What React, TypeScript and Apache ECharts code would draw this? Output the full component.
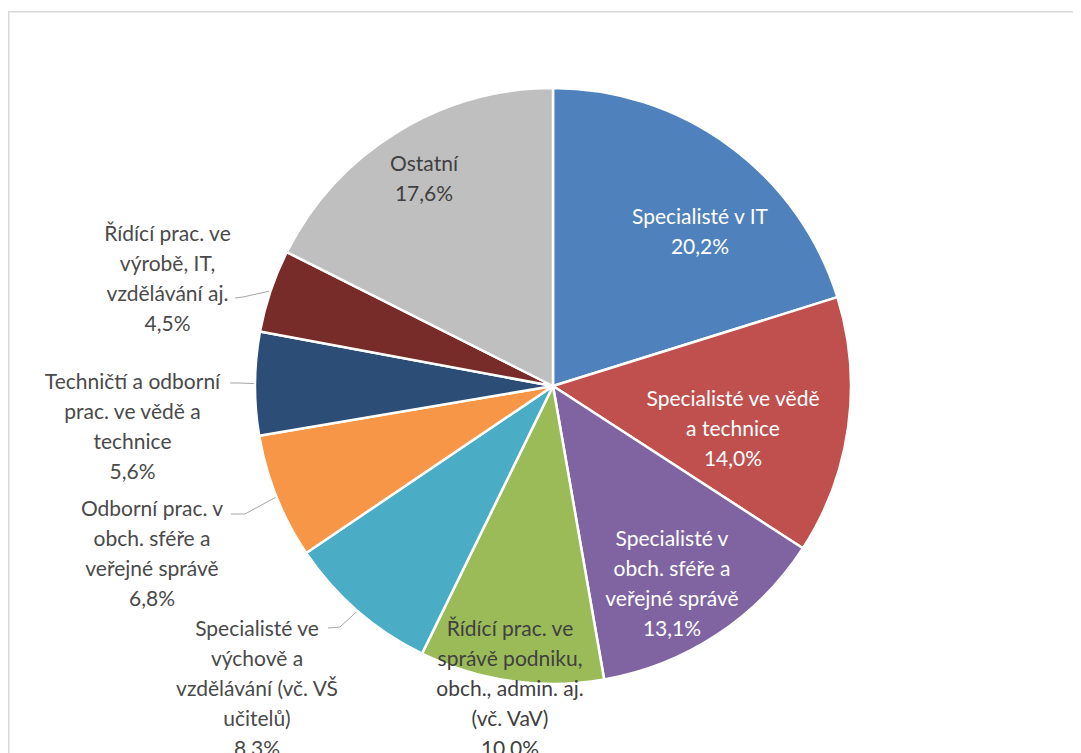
import React, { useEffect, useRef } from "react";
import * as echarts from "echarts";

const categories = [
  "Specialisté v IT",
  "Specialisté ve vědě a technice",
  "Specialisté v obch. sféře a veřejné správě",
  "Řídící prac. ve správě podniku, obch., admin. aj. (vč. VaV)",
  "Specialisté ve výchově a vzdělávání (vč. VŠ učitelů)",
  "Odborní prac. v obch. sféře a veřejné správě",
  "Techničtí a odborní prac. ve vědě a technice",
  "Řídící prac. ve výrobě, IT, vzdělávání aj.",
  "Ostatní",
];

const labelTexts = [
  "Specialisté v IT",
  "Specialisté ve vědě\na technice",
  "Specialisté v\nobch. sféře a\nveřejné správě",
  "Řídící prac. ve\nsprávě podniku,\nobch., admin. aj.\n(vč. VaV)",
  "Specialisté ve\nvýchově a\nvzdělávání (vč. VŠ\nučitelů)",
  "Odborní prac. v\nobch. sféře a\nveřejné správě",
  "Techničtí a odborní\nprac. ve vědě a\ntechnice",
  "Řídící prac. ve\nvýrobě, IT,\nvzdělávání aj.",
  "Ostatní",
];

const values = [20.2, 14.0, 13.1, 10.0, 8.3, 6.8, 5.6, 4.5, 17.6];

const colors = [
  "#4F81BD",
  "#C0504D",
  "#8064A2",
  "#9BBB59",
  "#4BACC6",
  "#F79646",
  "#2C4D75",
  "#772C2A",
  "#BFBFBF",
];

const insideLabel = [true, true, true, true, false, false, false, false, true];
const textColors = ["#ffffff", "#ffffff", "#ffffff", "#404040", "#4a4a4a", "#4a4a4a", "#4a4a4a", "#4a4a4a", "#404040"];

// label placement (chart pixel coords): centre x, block top, optional leader-line tail
const CX = 545;
const CY = 378;
const R = 298;
const LABEL_POS: { x: number; top: number; line?: number[][] }[] = [
  { x: 692, top: 192 },
  { x: 725, top: 374 },
  { x: 664, top: 514 },
  { x: 502, top: 604 },
  { x: 249, top: 604, line: [[332, 619], [320, 620]] },
  { x: 144, top: 484, line: [[237, 506], [223, 506]] },
  { x: 124.5, top: 357, line: [[232, 375], [222, 375]] },
  { x: 159.5, top: 209, line: [[235, 289], [227, 290]] },
  { x: 416, top: 139 },
];

function edgePoint(idx: number): number[] {
  const total = values.reduce((a, b) => a + b, 0);
  let cum = 0;
  for (let i = 0; i < idx; i++) cum += values[i];
  const theta = (2 * Math.PI * (cum + values[idx] / 2)) / total;
  return [CX + R * Math.sin(theta), CY - R * Math.cos(theta)];
}

export default function App() {
  const ref = useRef<HTMLDivElement>(null);

  useEffect(() => {
    document.documentElement.style.overflow = "hidden";
    if (!ref.current) return;
    const chart = echarts.init(ref.current, undefined, { renderer: "svg" });

    const data = categories.map((name, i) => ({
      name,
      value: values[i],
      itemStyle: { color: colors[i] },
      label: {
        show: true,
        position: insideLabel[i] ? "inside" : "outside",
        color: textColors[i],
      },
      labelLine: {
        show: !insideLabel[i],
        lineStyle: { color: "#a6a6a6", width: 1 },
      },
    }));

    chart.setOption({
      animation: false,
      graphic: [
        {
          type: "rect",
          shape: { x: 0.75, y: 3.75, width: 1200, height: 1000 },
          style: { fill: "none", stroke: "#d9d9d9", lineWidth: 1.5 },
          silent: true,
        },
      ],
      series: [
        {
          type: "pie",
          center: [CX, CY],
          radius: [0, R],
          startAngle: 90,
          clockwise: true,
          avoidLabelOverlap: false,
          minShowLabelAngle: 0,
          silent: true,
          itemStyle: { borderColor: "#ffffff", borderWidth: 2.5 },
          label: {
            fontFamily: "Lato, 'Noto Sans', sans-serif",
            fontSize: 21,
            lineHeight: 30,
            align: "center",
            formatter: (p: any) =>
              labelTexts[p.dataIndex] + "\n" + values[p.dataIndex].toFixed(1).replace(".", ",") + "%",
          },
          labelLine: { show: true, length: 10, length2: 10, smooth: false },
          labelLayout: (params: any) => {
            const p = LABEL_POS[params.dataIndex];
            const res: any = { x: p.x, y: p.top, align: "center", verticalAlign: "top" };
            if (p.line) {
              res.labelLinePoints = [edgePoint(params.dataIndex), p.line[0], p.line[1]];
            }
            return res;
          },
          emphasis: { disabled: true },
          data,
        },
      ],
    });

    return () => chart.dispose();
  }, []);

  return <div ref={ref} style={{ width: 1065, height: 745 }} />;
}
